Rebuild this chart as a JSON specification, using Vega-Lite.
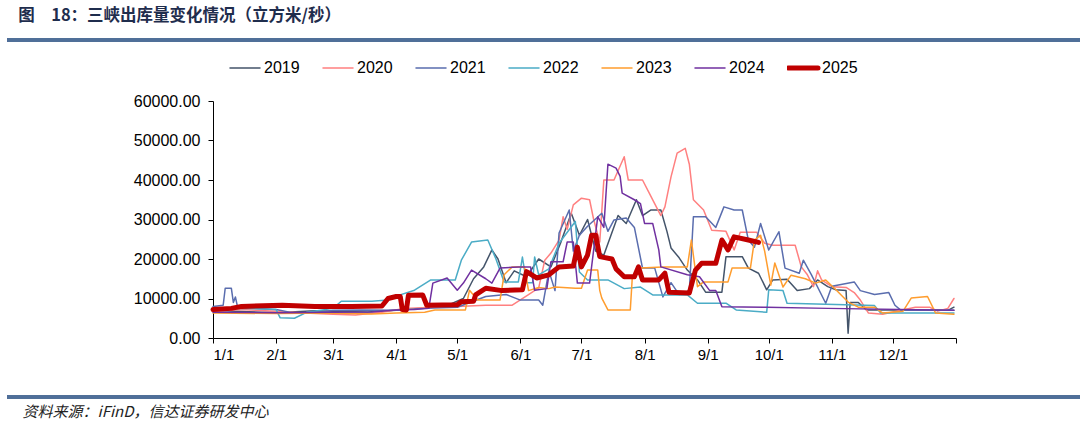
{
"$schema": "https://vega.github.io/schema/vega-lite/v6.json",
"width": 743,
"height": 237,
"padding": {"left": 6, "top": 8, "right": 0, "bottom": 0},
"background": "white",
"config": {"view": {"stroke": null}, "font": "Liberation Sans"},
"title": {"text": "图　18：三峡出库量变化情况（立方米/秒）", "anchor": "start", "font": "Noto Sans CJK SC", "fontSize": 16.5, "fontWeight": "bold", "color": "#1F2D4D", "dx": 12, "offset": 14},
"data": {"values": [
{"date":"2001-01-01","series":"2019","value":7000},{"date":"2001-01-12","series":"2019","value":6800},{"date":"2001-01-25","series":"2019","value":6500},{"date":"2001-02-08","series":"2019","value":6600},{"date":"2001-02-20","series":"2019","value":6900},{"date":"2001-03-05","series":"2019","value":6700},{"date":"2001-03-18","series":"2019","value":6600},{"date":"2001-04-01","series":"2019","value":7000},{"date":"2001-04-12","series":"2019","value":7500},{"date":"2001-04-25","series":"2019","value":8000},{"date":"2001-05-04","series":"2019","value":10000},{"date":"2001-05-09","series":"2019","value":15000},{"date":"2001-05-14","series":"2019","value":18000},{"date":"2001-05-18","series":"2019","value":22300},{"date":"2001-05-21","series":"2019","value":20000},{"date":"2001-05-25","series":"2019","value":14000},{"date":"2001-05-29","series":"2019","value":17000},{"date":"2001-06-04","series":"2019","value":15500},{"date":"2001-06-10","series":"2019","value":20000},{"date":"2001-06-16","series":"2019","value":18000},{"date":"2001-06-21","series":"2019","value":24400},{"date":"2001-06-26","series":"2019","value":31600},{"date":"2001-06-30","series":"2019","value":26000},{"date":"2001-07-04","series":"2019","value":30000},{"date":"2001-07-08","series":"2019","value":22000},{"date":"2001-07-12","series":"2019","value":21000},{"date":"2001-07-19","series":"2019","value":31000},{"date":"2001-07-23","series":"2019","value":29000},{"date":"2001-07-28","series":"2019","value":35000},{"date":"2001-07-31","series":"2019","value":31000},{"date":"2001-08-04","series":"2019","value":32400},{"date":"2001-08-09","series":"2019","value":32400},{"date":"2001-08-12","series":"2019","value":27000},{"date":"2001-08-14","series":"2019","value":22800},{"date":"2001-08-18","series":"2019","value":20300},{"date":"2001-08-22","series":"2019","value":17200},{"date":"2001-08-27","series":"2019","value":14700},{"date":"2001-08-31","series":"2019","value":11600},{"date":"2001-09-08","series":"2019","value":11600},{"date":"2001-09-10","series":"2019","value":20600},{"date":"2001-09-18","series":"2019","value":20600},{"date":"2001-09-21","series":"2019","value":17700},{"date":"2001-09-26","series":"2019","value":16400},{"date":"2001-09-30","series":"2019","value":12200},{"date":"2001-10-03","series":"2019","value":14700},{"date":"2001-10-10","series":"2019","value":14900},{"date":"2001-10-15","series":"2019","value":12000},{"date":"2001-10-21","series":"2019","value":12500},{"date":"2001-10-25","series":"2019","value":14700},{"date":"2001-10-30","series":"2019","value":13000},{"date":"2001-11-03","series":"2019","value":12200},{"date":"2001-11-08","series":"2019","value":12000},{"date":"2001-11-09","series":"2019","value":1200},{"date":"2001-11-10","series":"2019","value":9000},{"date":"2001-11-14","series":"2019","value":9000},{"date":"2001-11-18","series":"2019","value":7100},{"date":"2001-11-30","series":"2019","value":7100},{"date":"2001-12-15","series":"2019","value":7000},{"date":"2001-12-28","series":"2019","value":7000},{"date":"2001-12-31","series":"2019","value":7800},
{"date":"2001-01-01","series":"2020","value":6800},{"date":"2001-01-15","series":"2020","value":7200},{"date":"2001-02-01","series":"2020","value":6800},{"date":"2001-02-15","series":"2020","value":6300},{"date":"2001-03-01","series":"2020","value":6000},{"date":"2001-03-12","series":"2020","value":5800},{"date":"2001-03-25","series":"2020","value":6500},{"date":"2001-04-05","series":"2020","value":7500},{"date":"2001-04-20","series":"2020","value":7800},{"date":"2001-05-01","series":"2020","value":8000},{"date":"2001-05-15","series":"2020","value":8300},{"date":"2001-05-28","series":"2020","value":8300},{"date":"2001-06-05","series":"2020","value":11000},{"date":"2001-06-10","series":"2020","value":12700},{"date":"2001-06-13","series":"2020","value":19700},{"date":"2001-06-16","series":"2020","value":21500},{"date":"2001-06-20","series":"2020","value":24800},{"date":"2001-06-22","series":"2020","value":30700},{"date":"2001-06-24","series":"2020","value":27500},{"date":"2001-06-27","series":"2020","value":33700},{"date":"2001-07-01","series":"2020","value":35400},{"date":"2001-07-05","series":"2020","value":35000},{"date":"2001-07-07","series":"2020","value":30000},{"date":"2001-07-10","series":"2020","value":24300},{"date":"2001-07-12","series":"2020","value":40000},{"date":"2001-07-17","series":"2020","value":40000},{"date":"2001-07-22","series":"2020","value":45900},{"date":"2001-07-24","series":"2020","value":40000},{"date":"2001-07-31","series":"2020","value":40000},{"date":"2001-08-03","series":"2020","value":37000},{"date":"2001-08-09","series":"2020","value":31000},{"date":"2001-08-11","series":"2020","value":33200},{"date":"2001-08-14","series":"2020","value":40800},{"date":"2001-08-17","series":"2020","value":46800},{"date":"2001-08-21","series":"2020","value":48000},{"date":"2001-08-23","series":"2020","value":44000},{"date":"2001-08-25","series":"2020","value":35000},{"date":"2001-08-30","series":"2020","value":32400},{"date":"2001-09-03","series":"2020","value":27300},{"date":"2001-09-10","series":"2020","value":27000},{"date":"2001-09-14","series":"2020","value":22300},{"date":"2001-09-17","series":"2020","value":26800},{"date":"2001-09-25","series":"2020","value":26800},{"date":"2001-09-29","series":"2020","value":24000},{"date":"2001-10-03","series":"2020","value":23500},{"date":"2001-10-14","series":"2020","value":23500},{"date":"2001-10-17","series":"2020","value":18000},{"date":"2001-10-20","series":"2020","value":16000},{"date":"2001-10-23","series":"2020","value":13000},{"date":"2001-10-25","series":"2020","value":17000},{"date":"2001-10-27","series":"2020","value":14700},{"date":"2001-11-01","series":"2020","value":13000},{"date":"2001-11-08","series":"2020","value":12800},{"date":"2001-11-12","series":"2020","value":11500},{"date":"2001-11-15","series":"2020","value":9600},{"date":"2001-11-19","series":"2020","value":6300},{"date":"2001-11-26","series":"2020","value":6000},{"date":"2001-12-01","series":"2020","value":6600},{"date":"2001-12-12","series":"2020","value":7800},{"date":"2001-12-19","series":"2020","value":7800},{"date":"2001-12-23","series":"2020","value":6800},{"date":"2001-12-28","series":"2020","value":7500},{"date":"2001-12-31","series":"2020","value":10000},
{"date":"2001-01-01","series":"2021","value":8000},{"date":"2001-01-06","series":"2021","value":8300},{"date":"2001-01-07","series":"2021","value":12600},{"date":"2001-01-10","series":"2021","value":12600},{"date":"2001-01-11","series":"2021","value":9000},{"date":"2001-01-12","series":"2021","value":10400},{"date":"2001-01-13","series":"2021","value":8000},{"date":"2001-01-20","series":"2021","value":7600},{"date":"2001-02-01","series":"2021","value":7200},{"date":"2001-02-10","series":"2021","value":6300},{"date":"2001-02-20","series":"2021","value":6300},{"date":"2001-03-01","series":"2021","value":7000},{"date":"2001-03-15","series":"2021","value":7100},{"date":"2001-04-01","series":"2021","value":7000},{"date":"2001-04-15","series":"2021","value":7500},{"date":"2001-05-01","series":"2021","value":7800},{"date":"2001-05-15","series":"2021","value":10500},{"date":"2001-05-25","series":"2021","value":11000},{"date":"2001-06-01","series":"2021","value":9600},{"date":"2001-06-10","series":"2021","value":9600},{"date":"2001-06-12","series":"2021","value":8300},{"date":"2001-06-15","series":"2021","value":17000},{"date":"2001-06-18","series":"2021","value":12000},{"date":"2001-06-20","series":"2021","value":26600},{"date":"2001-06-25","series":"2021","value":32400},{"date":"2001-06-27","series":"2021","value":22000},{"date":"2001-06-30","series":"2021","value":26000},{"date":"2001-07-04","series":"2021","value":28300},{"date":"2001-07-11","series":"2021","value":31600},{"date":"2001-07-14","series":"2021","value":27000},{"date":"2001-07-17","series":"2021","value":29900},{"date":"2001-07-23","series":"2021","value":30400},{"date":"2001-07-27","series":"2021","value":28000},{"date":"2001-07-31","series":"2021","value":17700},{"date":"2001-08-06","series":"2021","value":17700},{"date":"2001-08-10","series":"2021","value":10400},{"date":"2001-08-14","series":"2021","value":14000},{"date":"2001-08-18","series":"2021","value":11000},{"date":"2001-08-23","series":"2021","value":12000},{"date":"2001-08-25","series":"2021","value":30700},{"date":"2001-08-31","series":"2021","value":30700},{"date":"2001-09-05","series":"2021","value":28000},{"date":"2001-09-09","series":"2021","value":33200},{"date":"2001-09-14","series":"2021","value":32400},{"date":"2001-09-18","series":"2021","value":32400},{"date":"2001-09-21","series":"2021","value":24800},{"date":"2001-09-24","series":"2021","value":23000},{"date":"2001-09-27","series":"2021","value":29000},{"date":"2001-10-01","series":"2021","value":22300},{"date":"2001-10-06","series":"2021","value":26900},{"date":"2001-10-09","series":"2021","value":17700},{"date":"2001-10-16","series":"2021","value":16400},{"date":"2001-10-18","series":"2021","value":19700},{"date":"2001-10-22","series":"2021","value":16000},{"date":"2001-10-29","series":"2021","value":8800},{"date":"2001-11-01","series":"2021","value":13100},{"date":"2001-11-12","series":"2021","value":14200},{"date":"2001-11-15","series":"2021","value":12000},{"date":"2001-11-22","series":"2021","value":11000},{"date":"2001-11-29","series":"2021","value":11500},{"date":"2001-12-02","series":"2021","value":8300},{"date":"2001-12-05","series":"2021","value":7000},{"date":"2001-12-31","series":"2021","value":7000},
{"date":"2001-01-01","series":"2022","value":7500},{"date":"2001-01-15","series":"2022","value":7500},{"date":"2001-02-01","series":"2022","value":7200},{"date":"2001-02-03","series":"2022","value":5100},{"date":"2001-02-10","series":"2022","value":5000},{"date":"2001-02-16","series":"2022","value":6500},{"date":"2001-03-01","series":"2022","value":7500},{"date":"2001-03-05","series":"2022","value":9300},{"date":"2001-03-20","series":"2022","value":9300},{"date":"2001-03-28","series":"2022","value":9600},{"date":"2001-04-01","series":"2022","value":10600},{"date":"2001-04-10","series":"2022","value":12100},{"date":"2001-04-18","series":"2022","value":14700},{"date":"2001-04-30","series":"2022","value":14700},{"date":"2001-05-03","series":"2022","value":19700},{"date":"2001-05-08","series":"2022","value":24300},{"date":"2001-05-16","series":"2022","value":24800},{"date":"2001-05-20","series":"2022","value":20000},{"date":"2001-05-24","series":"2022","value":14200},{"date":"2001-05-31","series":"2022","value":14200},{"date":"2001-06-02","series":"2022","value":20500},{"date":"2001-06-04","series":"2022","value":14000},{"date":"2001-06-07","series":"2022","value":14000},{"date":"2001-06-08","series":"2022","value":20500},{"date":"2001-06-10","series":"2022","value":16000},{"date":"2001-06-15","series":"2022","value":17500},{"date":"2001-06-20","series":"2022","value":24000},{"date":"2001-06-28","series":"2022","value":29500},{"date":"2001-06-30","series":"2022","value":16700},{"date":"2001-07-04","series":"2022","value":14700},{"date":"2001-07-14","series":"2022","value":14700},{"date":"2001-07-22","series":"2022","value":12500},{"date":"2001-07-30","series":"2022","value":12900},{"date":"2001-08-05","series":"2022","value":10900},{"date":"2001-08-22","series":"2022","value":10900},{"date":"2001-08-27","series":"2022","value":8800},{"date":"2001-09-10","series":"2022","value":8800},{"date":"2001-09-15","series":"2022","value":7100},{"date":"2001-09-30","series":"2022","value":6500},{"date":"2001-10-01","series":"2022","value":12200},{"date":"2001-10-08","series":"2022","value":12000},{"date":"2001-10-10","series":"2022","value":8800},{"date":"2001-11-22","series":"2022","value":8200},{"date":"2001-11-25","series":"2022","value":6300},{"date":"2001-12-31","series":"2022","value":6300},
{"date":"2001-01-01","series":"2023","value":6300},{"date":"2001-02-01","series":"2023","value":6200},{"date":"2001-03-01","series":"2023","value":6300},{"date":"2001-03-20","series":"2023","value":6100},{"date":"2001-04-01","series":"2023","value":6300},{"date":"2001-04-15","series":"2023","value":6500},{"date":"2001-04-20","series":"2023","value":7100},{"date":"2001-05-05","series":"2023","value":7100},{"date":"2001-05-07","series":"2023","value":12100},{"date":"2001-05-11","series":"2023","value":9600},{"date":"2001-05-22","series":"2023","value":9600},{"date":"2001-05-24","series":"2023","value":16000},{"date":"2001-05-28","series":"2023","value":18000},{"date":"2001-06-03","series":"2023","value":18000},{"date":"2001-06-05","series":"2023","value":12000},{"date":"2001-06-10","series":"2023","value":12800},{"date":"2001-06-15","series":"2023","value":12500},{"date":"2001-06-18","series":"2023","value":12900},{"date":"2001-06-28","series":"2023","value":12600},{"date":"2001-07-01","series":"2023","value":12600},{"date":"2001-07-04","series":"2023","value":17200},{"date":"2001-07-09","series":"2023","value":17200},{"date":"2001-07-10","series":"2023","value":12000},{"date":"2001-07-11","series":"2023","value":10100},{"date":"2001-07-14","series":"2023","value":7100},{"date":"2001-07-25","series":"2023","value":7100},{"date":"2001-07-26","series":"2023","value":15500},{"date":"2001-07-30","series":"2023","value":17700},{"date":"2001-08-10","series":"2023","value":18000},{"date":"2001-08-22","series":"2023","value":18000},{"date":"2001-08-24","series":"2023","value":24800},{"date":"2001-08-27","series":"2023","value":13000},{"date":"2001-08-30","series":"2023","value":14200},{"date":"2001-09-11","series":"2023","value":14200},{"date":"2001-09-13","series":"2023","value":17700},{"date":"2001-09-22","series":"2023","value":17700},{"date":"2001-09-24","series":"2023","value":24800},{"date":"2001-09-27","series":"2023","value":26000},{"date":"2001-09-29","series":"2023","value":22000},{"date":"2001-10-02","series":"2023","value":13400},{"date":"2001-10-04","series":"2023","value":19000},{"date":"2001-10-08","series":"2023","value":12900},{"date":"2001-10-12","series":"2023","value":15900},{"date":"2001-10-19","series":"2023","value":15000},{"date":"2001-10-24","series":"2023","value":13900},{"date":"2001-10-29","series":"2023","value":14700},{"date":"2001-11-03","series":"2023","value":12200},{"date":"2001-11-09","series":"2023","value":9100},{"date":"2001-11-14","series":"2023","value":7800},{"date":"2001-11-22","series":"2023","value":7800},{"date":"2001-11-26","series":"2023","value":6300},{"date":"2001-12-06","series":"2023","value":6800},{"date":"2001-12-10","series":"2023","value":10100},{"date":"2001-12-18","series":"2023","value":10500},{"date":"2001-12-22","series":"2023","value":6300},{"date":"2001-12-31","series":"2023","value":6000},
{"date":"2001-01-01","series":"2024","value":6500},{"date":"2001-02-01","series":"2024","value":6400},{"date":"2001-03-01","series":"2024","value":6500},{"date":"2001-03-20","series":"2024","value":6600},{"date":"2001-04-01","series":"2024","value":7100},{"date":"2001-04-10","series":"2024","value":7200},{"date":"2001-04-17","series":"2024","value":7500},{"date":"2001-04-19","series":"2024","value":13900},{"date":"2001-04-26","series":"2024","value":15200},{"date":"2001-05-01","series":"2024","value":12100},{"date":"2001-05-04","series":"2024","value":13900},{"date":"2001-05-08","series":"2024","value":17200},{"date":"2001-05-15","series":"2024","value":15000},{"date":"2001-05-18","series":"2024","value":13900},{"date":"2001-05-22","series":"2024","value":17700},{"date":"2001-05-31","series":"2024","value":18000},{"date":"2001-06-06","series":"2024","value":18000},{"date":"2001-06-08","series":"2024","value":12100},{"date":"2001-06-14","series":"2024","value":12500},{"date":"2001-06-16","series":"2024","value":19300},{"date":"2001-06-22","series":"2024","value":19300},{"date":"2001-06-24","series":"2024","value":24300},{"date":"2001-06-27","series":"2024","value":24300},{"date":"2001-06-29","series":"2024","value":13900},{"date":"2001-07-05","series":"2024","value":13900},{"date":"2001-07-09","series":"2024","value":30700},{"date":"2001-07-12","series":"2024","value":28000},{"date":"2001-07-14","series":"2024","value":44000},{"date":"2001-07-18","series":"2024","value":43000},{"date":"2001-07-20","series":"2024","value":40900},{"date":"2001-07-21","series":"2024","value":36700},{"date":"2001-07-27","series":"2024","value":35000},{"date":"2001-07-30","series":"2024","value":34000},{"date":"2001-08-01","series":"2024","value":29000},{"date":"2001-08-05","series":"2024","value":29000},{"date":"2001-08-08","series":"2024","value":22300},{"date":"2001-08-09","series":"2024","value":18000},{"date":"2001-08-22","series":"2024","value":16000},{"date":"2001-08-28","series":"2024","value":15500},{"date":"2001-09-02","series":"2024","value":12000},{"date":"2001-09-05","series":"2024","value":12000},{"date":"2001-09-08","series":"2024","value":7900},{"date":"2001-09-30","series":"2024","value":7800},{"date":"2001-10-30","series":"2024","value":7500},{"date":"2001-12-31","series":"2024","value":7000},
{"date":"2001-01-01","series":"2025","value":7200},{"date":"2001-01-10","series":"2025","value":7500},{"date":"2001-01-15","series":"2025","value":8000},{"date":"2001-02-04","series":"2025","value":8300},{"date":"2001-02-20","series":"2025","value":8000},{"date":"2001-03-10","series":"2025","value":8000},{"date":"2001-03-25","series":"2025","value":8100},{"date":"2001-03-28","series":"2025","value":10000},{"date":"2001-04-01","series":"2025","value":10500},{"date":"2001-04-03","series":"2025","value":10500},{"date":"2001-04-04","series":"2025","value":7200},{"date":"2001-04-06","series":"2025","value":7100},{"date":"2001-04-07","series":"2025","value":10800},{"date":"2001-04-14","series":"2025","value":10900},{"date":"2001-04-16","series":"2025","value":8300},{"date":"2001-05-01","series":"2025","value":8400},{"date":"2001-05-03","series":"2025","value":9200},{"date":"2001-05-09","series":"2025","value":9300},{"date":"2001-05-10","series":"2025","value":10900},{"date":"2001-05-15","series":"2025","value":12600},{"date":"2001-05-23","series":"2025","value":12000},{"date":"2001-06-02","series":"2025","value":12200},{"date":"2001-06-04","series":"2025","value":16800},{"date":"2001-06-09","series":"2025","value":15200},{"date":"2001-06-15","series":"2025","value":16000},{"date":"2001-06-20","series":"2025","value":18000},{"date":"2001-06-27","series":"2025","value":18200},{"date":"2001-06-29","series":"2025","value":23000},{"date":"2001-07-01","series":"2025","value":18000},{"date":"2001-07-04","series":"2025","value":21000},{"date":"2001-07-06","series":"2025","value":26000},{"date":"2001-07-08","series":"2025","value":26000},{"date":"2001-07-10","series":"2025","value":20600},{"date":"2001-07-16","series":"2025","value":20000},{"date":"2001-07-18","series":"2025","value":17500},{"date":"2001-07-22","series":"2025","value":15500},{"date":"2001-07-27","series":"2025","value":15500},{"date":"2001-07-29","series":"2025","value":18000},{"date":"2001-07-31","series":"2025","value":14700},{"date":"2001-08-08","series":"2025","value":14700},{"date":"2001-08-11","series":"2025","value":16400},{"date":"2001-08-13","series":"2025","value":11600},{"date":"2001-08-23","series":"2025","value":11400},{"date":"2001-08-26","series":"2025","value":17200},{"date":"2001-08-29","series":"2025","value":18900},{"date":"2001-09-05","series":"2025","value":18900},{"date":"2001-09-08","series":"2025","value":24800},{"date":"2001-09-11","series":"2025","value":22300},{"date":"2001-09-14","series":"2025","value":25600},{"date":"2001-09-21","series":"2025","value":24800},{"date":"2001-09-26","series":"2025","value":24200}
]},
"layer": [
{"mark": {"type": "line", "strokeJoin": "round", "strokeCap": "round"},
 "encoding": {
  "x": {"field": "date", "type": "temporal",
   "scale": {"type": "utc", "domain": [{"year": 2001, "month": 1, "date": 1, "utc": true}, {"year": 2002, "month": 1, "date": 1, "utc": true}]},
   "axis": {"values": [{"year": 2001, "month": 1, "date": 1, "utc": true}, {"year": 2001, "month": 2, "date": 1, "utc": true}, {"year": 2001, "month": 3, "date": 1, "utc": true}, {"year": 2001, "month": 4, "date": 1, "utc": true}, {"year": 2001, "month": 5, "date": 1, "utc": true}, {"year": 2001, "month": 6, "date": 1, "utc": true}, {"year": 2001, "month": 7, "date": 1, "utc": true}, {"year": 2001, "month": 8, "date": 1, "utc": true}, {"year": 2001, "month": 9, "date": 1, "utc": true}, {"year": 2001, "month": 10, "date": 1, "utc": true}, {"year": 2001, "month": 11, "date": 1, "utc": true}, {"year": 2001, "month": 12, "date": 1, "utc": true}, {"year": 2002, "month": 1, "date": 1, "utc": true}],
    "format": "%-m/%-d", "labelExpr": "utcyear(datum.value) > 2001 ? '' : datum.label",
    "grid": false, "domainColor": "#000000", "tickColor": "#000000", "tickSize": 5, "labelPadding": 4, "labelOverlap": false,
    "labelFontSize": 15, "labelColor": "#000000", "labelFont": "Liberation Sans",
    "title": "资料来源：iFinD，信达证券研发中心", "titleFont": "Noto Sans CJK SC", "titleFontSize": 15, "titleFontWeight": "normal", "titleFontStyle": "italic", "titleColor": "#222222",
    "titleAlign": "left", "titleAnchor": "start", "titleX": -191, "titleY": 73, "titleBaseline": "middle"}},
  "y": {"field": "value", "type": "quantitative",
   "scale": {"domain": [0, 60000]},
   "axis": {"values": [0, 10000, 20000, 30000, 40000, 50000, 60000], "tickCount": 7, "labelOverlap": false, "format": ".2f", "grid": false, "title": null,
    "domainColor": "#000000", "tickColor": "#000000", "tickSize": 5, "labelPadding": 8,
    "labelFontSize": 16, "labelColor": "#000000", "labelFont": "Liberation Sans"}},
  "color": {"field": "series", "type": "nominal",
   "scale": {"domain": ["2019", "2020", "2021", "2022", "2023", "2024", "2025"], "range": ["#44546A", "#FF8080", "#5A6DAE", "#4BACC6", "#FF9D2E", "#7030A0", "#C00000"]},
   "legend": {"title": null, "orient": "none", "legendX": 16, "legendY": -41, "direction": "horizontal", "symbolType": "stroke", "symbolSize": 900, "symbolStrokeWidth": 1.5, "clipHeight": 16, "labelFontSize": 16, "labelFont": "Liberation Sans", "labelColor": "#000000", "labelOffset": 3, "columnPadding": 22,
    "encode": {"symbols": {"update": {"strokeWidth": {"signal": "(datum.value === '2025' ? 5 : 1.5)"}, "strokeCap": {"value": "round"}}}}}},
  "strokeWidth": {"condition": {"test": "datum.series === '2025'", "value": 5}, "value": 1.5}
 }},
{"mark": {"type": "rule", "color": "#4F6F99", "strokeWidth": 2.5},
 "encoding": {
  "x": {"datum": {"year": 2000, "month": 9, "date": 22, "utc": true}, "type": "temporal"},
  "x2": {"datum": {"year": 2002, "month": 3, "date": 4, "utc": true}},
  "y": {"datum": 75443, "type": "quantitative"}}},
{"mark": {"type": "rule", "color": "#4F6F99", "strokeWidth": 2.5},
 "encoding": {
  "x": {"datum": {"year": 2000, "month": 9, "date": 22, "utc": true}, "type": "temporal"},
  "x2": {"datum": {"year": 2002, "month": 3, "date": 4, "utc": true}},
  "y": {"datum": -14937, "type": "quantitative"}}}
]
}
